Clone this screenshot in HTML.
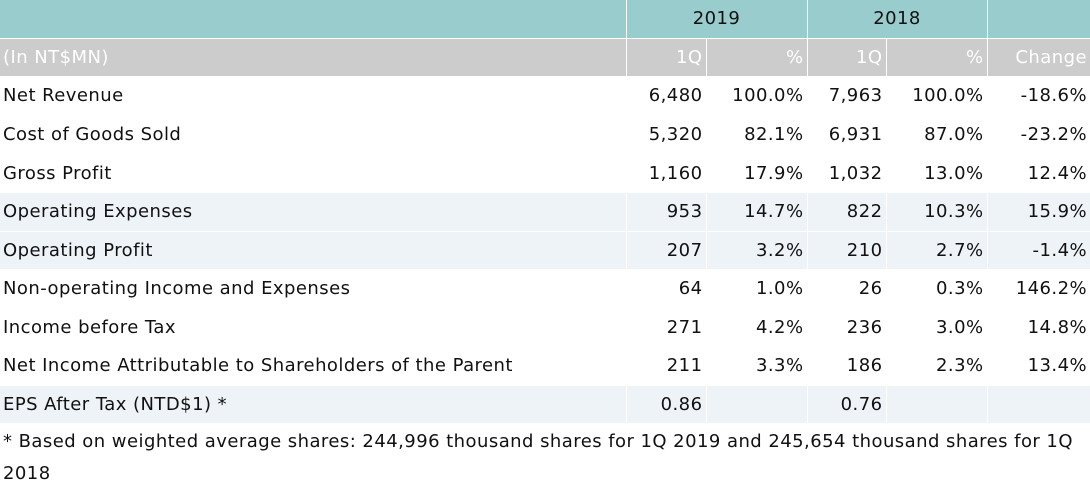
<!DOCTYPE html>
<html><head><meta charset="utf-8"><style>
html,body{margin:0;padding:0;background:#fff;width:1090px;height:488px;overflow:hidden}
body{font-family:"DejaVu Sans","Liberation Sans",sans-serif;font-size:18px;letter-spacing:0.45px;color:#111}
table{border-collapse:collapse;table-layout:fixed;width:1090px}
td{padding:0 3px 0 3px;border-right:1px solid #fff;border-bottom:1px solid #fff;text-align:right;white-space:nowrap;box-sizing:border-box;overflow:hidden}
td:first-child{text-align:left}
td:last-child{border-right:none}
.h1 td{background:#99cccc;text-align:center;height:38px;color:#111}
.h2 td{background:#cccccc;color:#fff;height:38px}
.s td{background:#eef3f8}
.foot{padding:0 3px;line-height:32px;margin-top:2px}
</style></head><body>
<table>
<colgroup><col style="width:626px"><col style="width:80px"><col style="width:101px"><col style="width:79px"><col style="width:101px"><col style="width:103px"></colgroup>
<tr class="h1"><td></td><td colspan="2">2019</td><td colspan="2">2018</td><td></td></tr>
<tr class="h2"><td>(In NT$MN)</td><td>1Q</td><td>%</td><td>1Q</td><td>%</td><td>Change</td></tr>
<tr style="height:39px"><td>Net Revenue</td><td>6,480</td><td>100.0%</td><td>7,963</td><td>100.0%</td><td>-18.6%</td></tr>
<tr style="height:39px"><td>Cost of Goods Sold</td><td>5,320</td><td>82.1%</td><td>6,931</td><td>87.0%</td><td>-23.2%</td></tr>
<tr style="height:38px"><td>Gross Profit</td><td>1,160</td><td>17.9%</td><td>1,032</td><td>13.0%</td><td>12.4%</td></tr>
<tr class="s" style="height:39px"><td>Operating Expenses</td><td>953</td><td>14.7%</td><td>822</td><td>10.3%</td><td>15.9%</td></tr>
<tr class="s" style="height:38px"><td>Operating Profit</td><td>207</td><td>3.2%</td><td>210</td><td>2.7%</td><td>-1.4%</td></tr>
<tr style="height:39px"><td>Non-operating Income and Expenses</td><td>64</td><td>1.0%</td><td>26</td><td>0.3%</td><td>146.2%</td></tr>
<tr style="height:38px"><td>Income before Tax</td><td>271</td><td>4.2%</td><td>236</td><td>3.0%</td><td>14.8%</td></tr>
<tr style="height:39px"><td>Net Income Attributable to Shareholders of the Parent</td><td>211</td><td>3.3%</td><td>186</td><td>2.3%</td><td>13.4%</td></tr>
<tr class="s" style="height:38px"><td>EPS After Tax (NTD$1) *</td><td>0.86</td><td></td><td>0.76</td><td></td><td></td></tr>
</table>
<div class="foot">* Based on weighted average shares: 244,996 thousand shares for 1Q 2019 and 245,654 thousand shares for 1Q<br>2018</div>
</body></html>
